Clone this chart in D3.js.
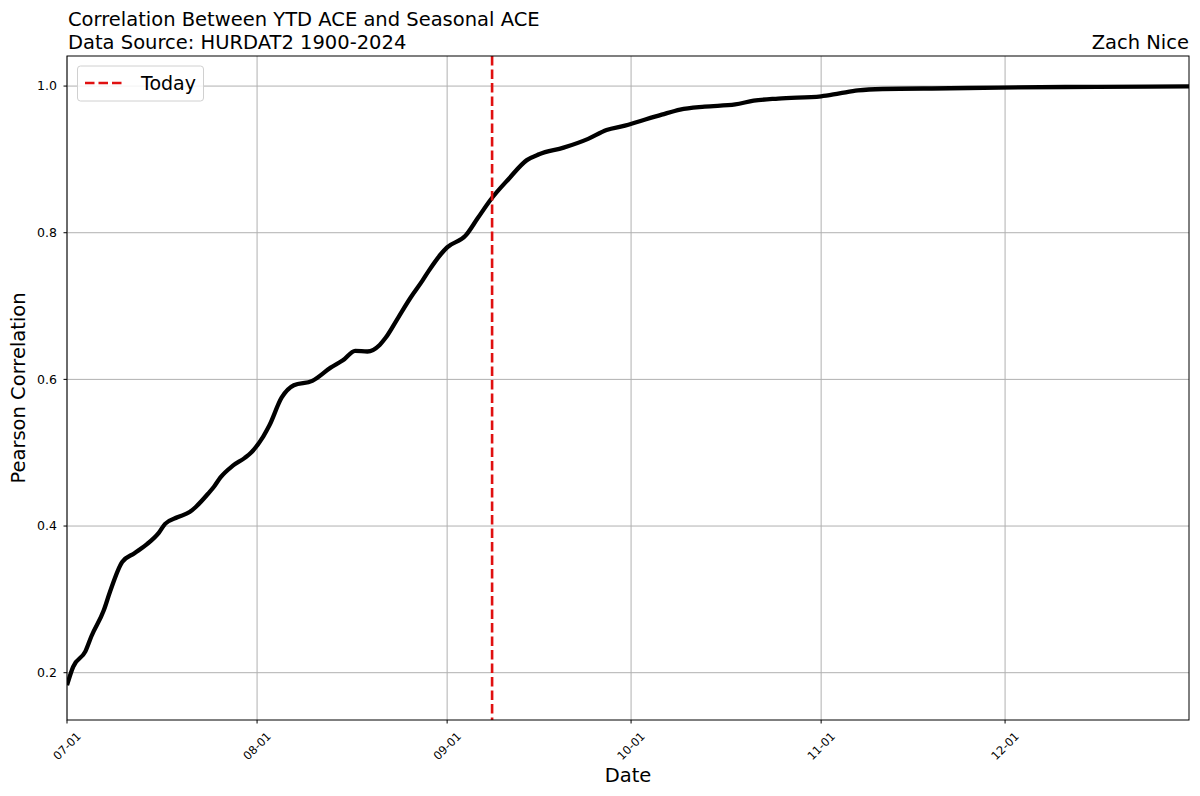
<!DOCTYPE html>
<html>
<head>
<meta charset="utf-8">
<script src="https://cdn.jsdelivr.net/npm/d3@7"></script>
<style>
  html, body { margin: 0; padding: 0; background: #fff; }
  svg { display: block; font-family: "DejaVu Sans", sans-serif; }
</style>
</head>
<body>
<svg id="chart" width="1200" height="796"></svg>
<script>
// ---- data ----
const dates = ["07-01","07-02","07-04","07-05","07-07","07-08","07-10","07-12","07-14","07-16",
  "07-17","07-19","07-21","07-22","07-24","07-25","07-26","07-28","07-30","07-31",
  "08-02","08-03","08-05","08-07","08-10","08-13","08-15","08-17","08-19","08-21",
  "08-22","08-24","08-26","08-28","08-29","08-31","09-01","09-04","09-06","09-08",
  "09-11","09-14","09-16","09-20","09-24","09-27","09-30","10-02","10-06","10-09",
  "10-13","10-18","10-21","10-25","11-01","11-04","11-07","11-11","11-22","11-30",
  "12-16","12-31"];
const corr = [0.183,0.208,0.229,0.250,0.285,0.310,0.351,0.363,0.375,0.391,
  0.403,0.412,0.419,0.426,0.444,0.454,0.466,0.482,0.493,0.500,
  0.522,0.537,0.575,0.592,0.598,0.616,0.626,0.639,0.638,0.647,
  0.657,0.684,0.711,0.735,0.748,0.771,0.780,0.796,0.820,0.844,
  0.873,0.899,0.907,0.916,0.928,0.940,0.946,0.951,0.961,0.968,
  0.972,0.975,0.980,0.983,0.986,0.990,0.994,0.996,0.997,0.998,
  0.999,0.9995];
const xTickLabels = ["07-01","08-01","09-01","10-01","11-01","12-01"];
const yTickValues = [0.2, 0.4, 0.6, 0.8, 1.0];
const todayDate = "09-08 08";
const xDomain = ["07-01","12-31"];
const yDomain = [0.1355, 1.041];
const titleLines = ["Correlation Between YTD ACE and Seasonal ACE", "Data Source: HURDAT2 1900-2024"];
const author = "Zach Nice";

// ---- layout ----
const parse = d3.timeParse("%m-%d");
const parseHour = d3.timeParse("%m-%d %H");
const pL = 67, pR = 1189, pT = 56, pB = 720;
const svg = d3.select("#chart");

const x = d3.scaleTime().domain(xDomain.map(parse)).range([pL, pR]);
const y = d3.scaleLinear().domain(yDomain).range([pB, pT]);

const data = dates.map((d, i) => ({ date: parse(d), v: corr[i] }));

// grid
const grid = svg.append("g");
grid.selectAll("line.vx").data(xTickLabels).join("line")
  .attr("x1", d => x(parse(d))).attr("x2", d => x(parse(d)))
  .attr("y1", pT).attr("y2", pB)
  .attr("stroke", "#b0b0b0").attr("stroke-width", 1);
grid.selectAll("line.hy").data(yTickValues).join("line")
  .attr("x1", pL).attr("x2", pR)
  .attr("y1", d => y(d)).attr("y2", d => y(d))
  .attr("stroke", "#b0b0b0").attr("stroke-width", 1);

// clip
svg.append("clipPath").attr("id", "clip").append("rect")
  .attr("x", pL).attr("y", pT).attr("width", pR - pL).attr("height", pB - pT);

// main line
const line = d3.line().x(d => x(d.date)).y(d => y(d.v)).curve(d3.curveMonotoneX);
svg.append("path").datum(data)
  .attr("clip-path", "url(#clip)")
  .attr("d", line)
  .attr("fill", "none").attr("stroke", "#000").attr("stroke-width", 4.3)
  .attr("stroke-linejoin", "round").attr("stroke-linecap", "butt");

// today line
const tx = x(parseHour(todayDate));
svg.append("line")
  .attr("x1", tx).attr("x2", tx)
  .attr("y1", pT).attr("y2", pB)
  .attr("stroke", "#e01010").attr("stroke-width", 2.6)
  .attr("stroke-dasharray", "9.5,4");

// frame
svg.append("rect").attr("x", pL).attr("y", pT)
  .attr("width", pR - pL).attr("height", pB - pT)
  .attr("fill", "none").attr("stroke", "#000").attr("stroke-width", 1);

// x axis ticks
const xt = svg.append("g");
xt.selectAll("line").data(xTickLabels).join("line")
  .attr("x1", d => x(parse(d))).attr("x2", d => x(parse(d)))
  .attr("y1", pB).attr("y2", pB + 3.5)
  .attr("stroke", "#000").attr("stroke-width", 1);
xt.selectAll("text").data(xTickLabels).join("text")
  .attr("transform", d => `translate(${x(parse(d))},${pB + 26}) rotate(-45)`)
  .attr("text-anchor", "middle").attr("dy", "0.35em")
  .attr("font-size", 11.5).attr("fill", "#000")
  .text(d => d);

// y axis ticks
const yt = svg.append("g");
yt.selectAll("line").data(yTickValues).join("line")
  .attr("x1", pL - 3.5).attr("x2", pL)
  .attr("y1", d => y(d)).attr("y2", d => y(d))
  .attr("stroke", "#000").attr("stroke-width", 1);
yt.selectAll("text").data(yTickValues).join("text")
  .attr("x", pL - 10).attr("y", d => y(d))
  .attr("dy", "0.35em").attr("text-anchor", "end")
  .attr("font-size", 12.5).attr("fill", "#000")
  .text(d => d3.format(".1f")(d));

// axis labels
svg.append("text").attr("x", (pL + pR) / 2).attr("y", 782)
  .attr("text-anchor", "middle").attr("font-size", 19.5).text("Date");
svg.append("text")
  .attr("transform", `translate(25,${(pT + pB) / 2}) rotate(-90)`)
  .attr("text-anchor", "middle").attr("font-size", 19.5).text("Pearson Correlation");

// titles
svg.append("text").attr("x", pL + 1).attr("y", 26)
  .attr("font-size", 19.5).text(titleLines[0]);
svg.append("text").attr("x", pL + 1).attr("y", 49)
  .attr("font-size", 19.5).text(titleLines[1]);
svg.append("text").attr("x", pR).attr("y", 49)
  .attr("text-anchor", "end").attr("font-size", 19.5).text(author);

// legend
const lg = svg.append("g");
lg.append("rect").attr("x", 77.5).attr("y", 66).attr("width", 126).attr("height", 35)
  .attr("rx", 3).attr("ry", 3)
  .attr("fill", "#fff").attr("fill-opacity", 0.85)
  .attr("stroke", "#d0d0d0").attr("stroke-width", 1);
lg.append("line").attr("x1", 85).attr("x2", 124).attr("y1", 83).attr("y2", 83)
  .attr("stroke", "#e01010").attr("stroke-width", 2.6).attr("stroke-dasharray", "9.5,4");
lg.append("text").attr("x", 141).attr("y", 90).attr("font-size", 19).text("Today");
</script>
</body>
</html>
